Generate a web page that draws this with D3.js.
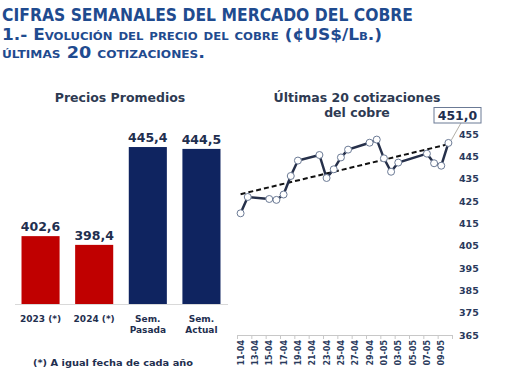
<!DOCTYPE html>
<html>
<head>
<meta charset="utf-8">
<script src="https://cdn.jsdelivr.net/npm/d3@7"></script>
<style>
  body { margin: 0; background: #fff; }
  svg { display: block; font-family: "DejaVu Sans", Verdana, sans-serif; }
</style>
</head>
<body>
<svg width="510" height="382"></svg>
<script>
// bar chart: promedios
var barCats = ["2023 (*)", "2024 (*)", "Sem. Pasada", "Sem. Actual"];
var barLabels = [["2023 (*)"], ["2024 (*)"], ["Sem.", "Pasada"], ["Sem.", "Actual"]];
var barValues = [402.6, 398.4, 445.4, 444.5];

// line chart: ultimas cotizaciones
var quoteDates = ["11-04-2024", "12-04-2024", "15-04-2024", "16-04-2024", "17-04-2024",
    "18-04-2024", "19-04-2024", "22-04-2024", "23-04-2024", "24-04-2024", "25-04-2024",
    "26-04-2024", "29-04-2024", "30-04-2024", "01-05-2024", "02-05-2024", "03-05-2024",
    "07-05-2024", "08-05-2024", "09-05-2024", "10-05-2024"];
var quoteValues = [419.5, 426.8, 425.9, 425.5, 427.9, 436.2, 443.1, 445.6, 435.3, 439.2,
    444.5, 448.0, 451.1, 452.5, 444.1, 438.1, 442.2, 446.2, 441.9, 440.8, 451.0];
var yTickValues = [365, 375, 385, 395, 405, 415, 425, 435, 445, 455];

var color_red = "#c00000";
var color_navy = "#0f2460";
var color_text = "#1f2f4f";
var color_title = "#1f4b8f";

var fmt = function(v) { return d3.format(".1f")(v).replace(".", ","); };
var parse = d3.timeParse("%d-%m-%Y");

var svg = d3.select("svg");

// TITLES
svg.append("text")
    .attr("x", 2).attr("y", 21)
    .attr("textLength", 411).attr("lengthAdjust", "spacingAndGlyphs")
    .style("font-size", "18px").style("font-weight", "bold")
    .attr("fill", color_title)
    .text("CIFRAS SEMANALES DEL MERCADO DEL COBRE");

svg.append("text")
    .attr("x", 2).attr("y", 40)
    .attr("textLength", 380).attr("lengthAdjust", "spacingAndGlyphs")
    .style("font-size", "16px").style("font-weight", "bold")
    .style("font-variant", "small-caps")
    .attr("fill", color_title)
    .text("1.- Evolución del precio del cobre (¢US$/Lb.)");

svg.append("text")
    .attr("x", 2).attr("y", 58)
    .attr("textLength", 203).attr("lengthAdjust", "spacingAndGlyphs")
    .style("font-size", "16px").style("font-weight", "bold")
    .style("font-variant", "small-caps")
    .attr("fill", color_title)
    .text("últimas 20 cotizaciones.");

// LEFT CHART
var xb = d3.scaleBand().domain(barCats).range([14, 228]).paddingInner(0.29).paddingOuter(0.14);
var yb = d3.scaleLinear().domain([370, 480]).range([304, 75]);
var barColor = d3.scaleOrdinal().domain(barCats).range([color_red, color_red, color_navy, color_navy]);

svg.append("text")
    .attr("x", 120).attr("y", 102)
    .attr("text-anchor", "middle")
    .style("font-size", "12.5px").style("font-weight", "bold")
    .attr("fill", "#2e3a52")
    .text("Precios Promedios");

var gb = svg.append("g");

gb.selectAll(".bar")
    .data(barValues)
    .enter().append("rect")
    .attr("class", "bar")
    .attr("x", function (d, i) { return xb(barCats[i]); })
    .attr("y", function (d) { return yb(d); })
    .attr("width", xb.bandwidth())
    .attr("height", function (d) { return yb.range()[0] - yb(d); })
    .attr("fill", function (d, i) { return barColor(barCats[i]); });

gb.selectAll(".val")
    .data(barValues)
    .enter().append("text")
    .attr("class", "val")
    .attr("x", function (d, i) { return xb(barCats[i]) + xb.bandwidth() / 2; })
    .attr("y", function (d) { return yb(d) - 5; })
    .attr("text-anchor", "middle")
    .style("font-size", "12.5px").style("font-weight", "bold")
    .attr("fill", color_text)
    .text(fmt);

gb.append("line")
    .attr("x1", 15).attr("x2", 228)
    .attr("y1", 304.5).attr("y2", 304.5)
    .attr("stroke", "#d9d9d9");

gb.selectAll(".cat")
    .data(barLabels)
    .enter().append("text")
    .attr("class", "cat")
    .attr("x", function (d, i) { return xb(barCats[i]) + xb.bandwidth() / 2; })
    .attr("y", 322)
    .attr("text-anchor", "middle")
    .style("font-size", "9px").style("font-weight", "bold")
    .attr("fill", color_text)
    .selectAll("tspan")
    .data(function (d) { return d; })
    .enter().append("tspan")
    .attr("x", function () { return this.parentNode.getAttribute("x"); })
    .attr("dy", function (d, i) { return i ? 11 : 0; })
    .text(function (d) { return d; });

svg.append("text")
    .attr("x", 113).attr("y", 366)
    .attr("text-anchor", "middle")
    .attr("textLength", 160).attr("lengthAdjust", "spacingAndGlyphs")
    .style("font-size", "9.5px").style("font-weight", "bold")
    .attr("fill", color_text)
    .text("(*) A igual fecha de cada año");

// RIGHT CHART
var dates = quoteDates.map(parse);
var start = dates[0];
var end = d3.timeDay.offset(start, 30);
var x = d3.scaleTime().domain([start, end]).range([237, 452]);
var y = d3.scaleLinear().domain([365, 455]).range([335, 134]);
var mid = function (d) { return x(d3.timeHour.offset(d, 12)); };

svg.append("text")
    .attr("x", 357).attr("y", 102)
    .attr("text-anchor", "middle")
    .style("font-size", "12.5px").style("font-weight", "bold")
    .attr("fill", "#2e3a52")
    .text("Últimas 20 cotizaciones");
svg.append("text")
    .attr("x", 357).attr("y", 117)
    .attr("text-anchor", "middle")
    .style("font-size", "12.5px").style("font-weight", "bold")
    .attr("fill", "#2e3a52")
    .text("del cobre");

// y axis (right side, labels only)
var yAxis = svg.append("g")
    .attr("transform", "translate(456,0)")
    .call(d3.axisRight(y).tickValues(yTickValues).tickSize(0).tickPadding(3));
yAxis.select(".domain").remove();
yAxis.selectAll("text")
    .style("font-family", "DejaVu Sans, sans-serif")
    .style("font-size", "9.5px").style("font-weight", "bold")
    .attr("fill", "#2a3a5c");

// x axis: marks at day boundaries, labels at day centres
var xMarks = svg.append("g")
    .attr("transform", "translate(0,335)")
    .call(d3.axisBottom(x).tickValues(d3.timeDay.range(start, d3.timeDay.offset(end, 1), 2))
        .tickSize(4).tickSizeOuter(0).tickFormat(""));
xMarks.selectAll("path, line").attr("stroke", "#c8c8c8");

var xLabels = svg.append("g")
    .attr("transform", "translate(0,335)")
    .call(d3.axisBottom(x).tickValues(d3.timeDay.range(start, end, 2).map(function (d) { return d3.timeHour.offset(d, 12); }))
        .tickSize(0).tickFormat(d3.timeFormat("%d-%m")));
xLabels.select(".domain").remove();
xLabels.selectAll("text")
    .style("font-family", "DejaVu Sans, sans-serif")
    .style("font-size", "8px").style("font-weight", "bold")
    .attr("fill", "#2a3a5c")
    .attr("text-anchor", "end")
    .attr("transform", "rotate(-90)")
    .attr("x", -5).attr("y", 0).attr("dy", "0.32em");

// trend line (least squares on date)
var xs = dates.map(function (d) { return (d - start) / 864e5; });
var mx = d3.mean(xs), my = d3.mean(quoteValues);
var slope = d3.sum(xs, function (v, i) { return (v - mx) * (quoteValues[i] - my); }) /
    d3.sum(xs, function (v) { return (v - mx) * (v - mx); });
var trend = [dates[0], dates[dates.length - 1]].map(function (d) {
    var t = (d - start) / 864e5;
    return [mid(d), y(my + slope * (t - mx))];
});
svg.append("line")
    .attr("x1", trend[0][0]).attr("y1", trend[0][1])
    .attr("x2", trend[1][0]).attr("y2", trend[1][1])
    .attr("stroke", "#111").attr("stroke-width", 2)
    .attr("stroke-dasharray", "5,3");

var line = d3.line()
    .x(function (d, i) { return mid(dates[i]); })
    .y(function (d) { return y(d); });

svg.append("path")
    .datum(quoteValues)
    .attr("d", line)
    .attr("fill", "none")
    .attr("stroke", "#26304a")
    .attr("stroke-width", 2.5);

svg.selectAll(".pt")
    .data(quoteValues)
    .enter().append("circle")
    .attr("class", "pt")
    .attr("cx", function (d, i) { return mid(dates[i]); })
    .attr("cy", function (d) { return y(d); })
    .attr("r", 3.5)
    .attr("fill", "#fff")
    .attr("stroke", "#6b7a95")
    .attr("stroke-width", 1);

// last value callout
var lastI = quoteValues.length - 1;
var lx = mid(dates[lastI]), ly = y(quoteValues[lastI]);
svg.append("line")
    .attr("x1", lx + 3).attr("y1", ly - 3)
    .attr("x2", 461).attr("y2", 123)
    .attr("stroke", "#a09a90").attr("stroke-width", 0.8);
svg.append("rect")
    .attr("x", 434).attr("y", 107.5)
    .attr("width", 47).attr("height", 15.5)
    .attr("fill", "#fff")
    .attr("stroke", "#6b7a95").attr("stroke-width", 1);
svg.append("text")
    .attr("x", 457.5).attr("y", 120)
    .attr("text-anchor", "middle")
    .style("font-size", "12.5px").style("font-weight", "bold")
    .attr("fill", color_text)
    .text(fmt(quoteValues[lastI]));
</script>
</body>
</html>
